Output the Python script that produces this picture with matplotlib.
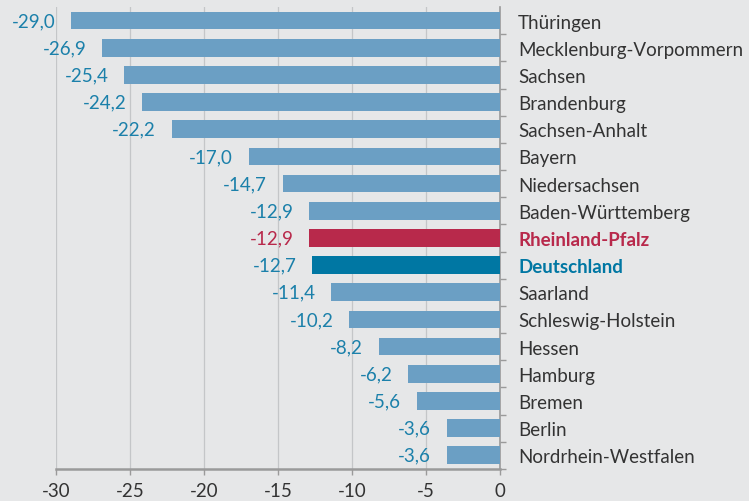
import matplotlib
matplotlib.use("Agg")
import matplotlib.pyplot as plt
from matplotlib.ticker import FixedLocator

plt.rcParams['font.family'] = ['Lato', 'DejaVu Sans']

laender = ["Thüringen", "Mecklenburg-Vorpommern", "Sachsen", "Brandenburg",
           "Sachsen-Anhalt", "Bayern", "Niedersachsen", "Baden-Württemberg",
           "Rheinland-Pfalz", "Deutschland", "Saarland", "Schleswig-Holstein",
           "Hessen", "Hamburg", "Bremen", "Berlin", "Nordrhein-Westfalen"]
werte = [-29.0, -26.9, -25.4, -24.2, -22.2, -17.0, -14.7, -12.9,
         -12.9, -12.7, -11.4, -10.2, -8.2, -6.2, -5.6, -3.6, -3.6]
x_ticks = [-30, -25, -20, -15, -10, -5, 0]

bg = "#e6e7e8"
bar_col = "#6b9fc4"
rp_col = "#b8294b"
de_col = "#0077a3"
val_col = "#1b80aa"
txt_col = "#333333"
fs = 13.5

fig = plt.figure(figsize=(7.49, 5.02), dpi=100, facecolor=bg)
ax = fig.add_axes([0.0754, 0.064, 0.5922, 0.920], facecolor=bg)

n = len(laender)
ypos = list(range(n))[::-1]
colors = []
lab_colors = []
for name in laender:
    if name == "Rheinland-Pfalz":
        colors.append(rp_col); lab_colors.append(rp_col)
    elif name == "Deutschland":
        colors.append(de_col); lab_colors.append(de_col)
    else:
        colors.append(bar_col); lab_colors.append(txt_col)

ax.barh(ypos, werte, height=0.65, color=colors, zorder=3)

for y, v, name in zip(ypos, werte, laender):
    c = rp_col if name == "Rheinland-Pfalz" else val_col
    ax.annotate(f"{v:.1f}".replace(".", ","), xy=(v, y), xytext=(-11.5, 0),
                textcoords="offset points", ha="right", va="center",
                fontsize=fs, color=c)

ax.set_xlim(-30, 0)
ax.set_ylim(-0.5, n - 0.5)
ax.set_xticks(x_ticks)
ax.set_xticklabels([str(t) for t in x_ticks], fontsize=fs, color=txt_col)
ax.xaxis.grid(True, color="#c4c6c8", linewidth=0.9, zorder=0)

ax.yaxis.tick_right()
ax.set_yticks(ypos)
ax.set_yticklabels(laender, fontsize=fs)
for lab, c, name in zip(ax.get_yticklabels(), lab_colors, laender):
    lab.set_color(c)
    if name in ("Rheinland-Pfalz", "Deutschland"):
        lab.set_fontweight("bold")
ax.tick_params(axis="y", which="major", length=0, pad=13)
ax.yaxis.set_minor_locator(FixedLocator([k + 0.5 for k in range(n - 1)] + [-0.5]))
ax.tick_params(axis="y", which="minor", right=True, left=False, length=4,
               color="#9a9a9a", width=1)
ax.tick_params(axis="x", length=4, color="#9a9a9a", width=1, pad=5.5)

for s in ("top", "left"):
    ax.spines[s].set_visible(False)
ax.spines["right"].set_color("#9a9a9a")
ax.spines["right"].set_linewidth(1.2)
ax.spines["bottom"].set_color("#9a9a9a")
ax.spines["bottom"].set_linewidth(1.8)

fig.savefig("out.png", dpi=100, facecolor=bg)
